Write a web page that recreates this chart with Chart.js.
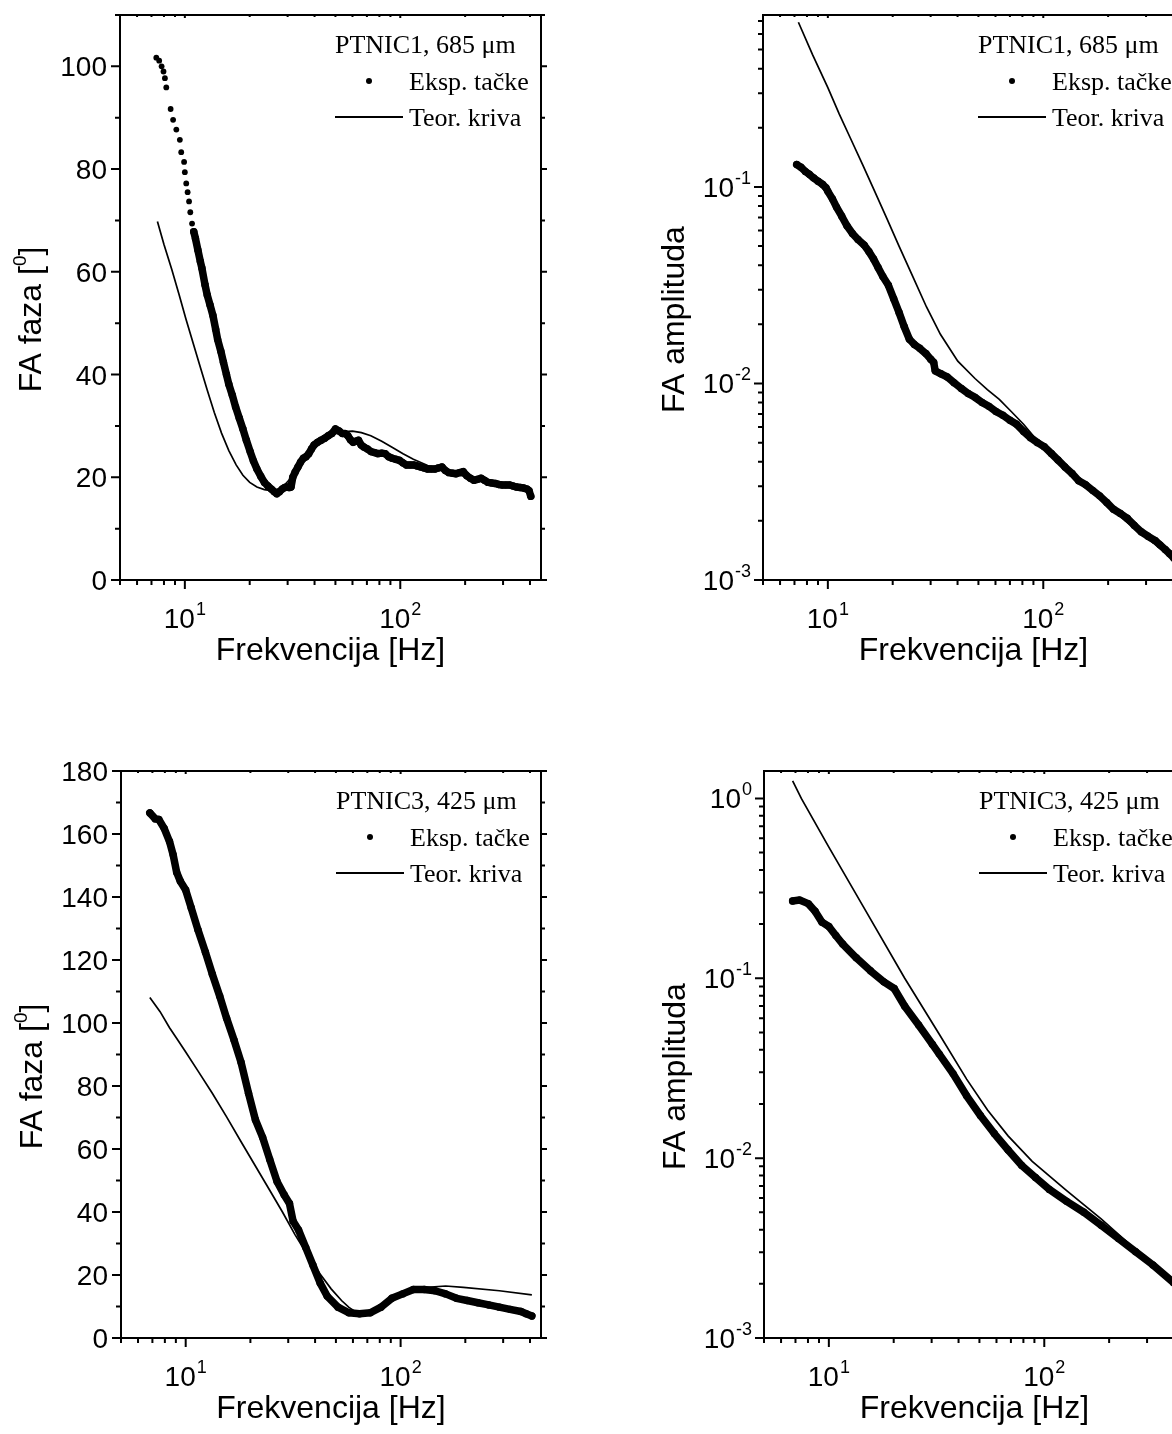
<!DOCTYPE html>
<html>
<head>
<meta charset="utf-8">
<script src="https://cdn.jsdelivr.net/npm/chart.js@4.4.0/dist/chart.umd.min.js"></script>
<style>
  html, body { margin: 0; padding: 0; background: #fff; width: 1172px; height: 1434px; overflow: hidden; }
  canvas { position: absolute; }
</style>
</head>
<body>
<canvas id="c1" width="586" height="717" style="left:0;top:0"></canvas>
<canvas id="c2" width="640" height="717" style="left:586px;top:0"></canvas>
<canvas id="c3" width="586" height="717" style="left:0;top:717px"></canvas>
<canvas id="c4" width="640" height="717" style="left:586px;top:717px"></canvas>
<script>
// PTNIC1, 685 um - phase (experimental points)
const tlFreq = [7.37,7.6,7.8,7.96,8.08,8.2,8.59,8.82,9.13,9.48,
  9.62,9.92,10.0,10.15,10.3,10.46,10.6,10.8,11.0,11.2,
  11.5,11.8,12.0,12.4,12.7,13.1,13.5,13.9,14.2,14.7,
  15.1,15.6,16.0,16.6,17.2,17.9,18.6,19.3,20.1,20.8,
  21.6,22.5,23.4,24.3,25.2,26.0,26.7,27.5,28.3,29.1,
  29.9,30.5,31.1,31.7,32.5,33.5,34.5,35.5,36.5,37.6,
  38.7,39.8,41.3,42.9,44.6,46.3,48.1,50,52,53.9,
  55.5,57.1,58.7,60.4,62.2,64,65.8,67.7,70.4,73.1,
  76,78.8,82,85,88.3,91.7,95.3,99,103,106.8,
  111,115.2,119.7,124.3,129,134,139.3,144.6,150,156,
  162,168.3,175,181.6,188.6,196,203.6,211.5,219.6,228,
  237,246,255.7,265.5,275.8,286.5,297.6,309,321,333.5,
  346.5,360,373.8,388,396,403.5];
const tlPhase = [101.7,101.1,100.0,99.0,97.7,95.9,91.7,89.6,87.7,85.7,
  83.3,81.4,79.4,77.2,75.5,73.7,71.6,69.4,67.8,66.5,
  64.2,62.0,60.7,57.5,55.5,53.5,51.5,48.8,46.8,44.5,
  42.4,40.0,38.1,36.0,33.7,31.5,29.4,27.2,25.0,23.2,
  21.6,20.2,19.0,18.3,17.7,17.2,16.8,17.2,17.7,18.0,
  18.1,18.0,18.1,20.0,21.0,22.0,23.0,23.7,24.0,24.6,
  25.5,26.3,26.8,27.2,27.6,28.1,28.5,29.4,29.0,28.5,
  28.5,28.1,27.3,26.8,27.0,27.2,26.3,25.9,25.5,25.0,
  24.8,24.6,24.7,24.6,24.0,23.7,23.5,23.3,22.8,22.4,
  22.4,22.4,22.2,22.0,21.8,21.6,21.6,21.6,21.8,22.0,
  21.3,20.9,20.8,20.7,20.9,21.1,20.3,19.8,19.4,19.6,
  19.8,19.4,19.0,18.9,18.8,18.6,18.5,18.5,18.5,18.3,
  18.1,18.0,17.9,17.7,17.4,16.3];
// PTNIC1 - phase (theoretical curve)
const tlTheoFreq = [7.46,8.0,8.69,9.4,10.1,11.0,11.8,12.7,13.7,14.8,
  16.0,17.3,18.6,20.0,21.6,23.4,25.2,27,29,31,
  33.5,36,39,42.5,46,50,55,60,66,73,
  82,92,103,115,134,150,168,190,215,250,
  300,350,405];
const tlTheoPhase = [69.8,65.3,60.5,55.6,50.9,45.7,41.4,37.0,32.6,28.6,
  25.2,22.4,20.4,19.0,18.1,17.6,17.4,17.6,18.5,19.8,
  21.7,23.5,25.3,26.8,27.8,28.5,28.9,29.0,28.7,28.1,
  27.0,25.8,24.6,23.5,22.3,21.6,21.0,20.4,19.8,19.2,
  18.5,18.0,17.4];

// PTNIC1 - amplitude
const trFreq = [7.17,7.5,7.86,8.2,8.6,9.0,9.46,9.8,10.0,10.5,
  10.97,11.6,12.26,13.0,13.8,14.75,15.5,16.3,17.1,18.0,
  19.1,20.2,21.4,22.6,23.9,25.2,26.7,28.5,30.0,31.0,
  31.5,33.5,35.8,38.5,41.6,44.8,48.2,52,55.9,60.3,
  64.9,70,75.2,81,87.2,94,101,109,117,126,
  136,146,157.5,170,182.7,197,211.8,228,245.5,264,
  284.6,306,330,348,368,386,404];
const trAmp = [0.130,0.126,0.120,0.116,0.111,0.107,0.103,0.099,0.095,0.087,
  0.079,0.071,0.0635,0.058,0.054,0.0506,0.047,0.043,0.0389,0.035,
  0.0316,0.027,0.023,0.0195,0.0168,0.0158,0.0151,0.0142,0.0133,0.0128,
  0.0116,0.0112,0.0108,0.0101,0.00944,0.0089,0.0085,0.0080,0.00765,0.0072,
  0.00689,0.0065,0.0062,0.0057,0.0053,0.0050,0.00477,0.0044,0.00408,0.00376,
  0.00348,0.0032,0.00305,0.00285,0.00268,0.00248,0.00229,0.00218,0.00206,0.0019,
  0.00176,0.00167,0.00159,0.00151,0.00143,0.00136,0.00129];
const trTheoFreq = [7.3,8.5,10,11.3,12.7,14.5,16.5,18.8,21.4,24.8,
  28.7,33.3,40.1,48.2,55,62.5,71,81,90,99.3,
  120,150,190,240,300,350,400];
const trTheoAmp = [0.689,0.47,0.32,0.235,0.178,0.13,0.095,0.069,0.05,0.035,
  0.0245,0.0178,0.0130,0.0106,0.0093,0.0083,0.0072,0.0062,0.0054,0.00478,
  0.0040,0.0032,0.00255,0.0020,0.00165,0.00145,0.0013];

// PTNIC3, 425 um - phase
const blFreq = [6.81,7.22,7.5,7.94,8.41,8.74,9.08,9.44,10,10.6,
  11.4,12.35,13.3,14.4,15.5,16.8,18.1,19.6,21.1,22.8,
  24.6,26.6,28.7,30.4,31.6,33.5,36.2,39.1,42.2,45.5,
  51.1,57.4,64.4,72.3,81.1,91,102.2,114.7,128.7,144.5,
  162,182,204,229,257,288,323,363,384,408];
const blPhase = [166.7,164.8,164.6,161.8,157.6,153.4,147.8,145,142.2,136.6,
  129.6,122.5,115.5,108.5,101.5,94.5,87.5,77.7,69.3,63.7,
  56.7,49.7,45.5,42.7,37.1,34.3,28.7,23.1,17.5,13.3,
  9.8,8.0,7.7,8.0,9.8,12.6,14.0,15.4,15.4,15.0,
  14.0,12.6,11.9,11.2,10.5,9.8,9.1,8.4,7.7,7.0];
const blTheoFreq = [6.81,7.6,8.41,9.2,10,11.5,13.3,15.5,18.1,21.1,
  24.6,28.2,32.2,37,42.2,47.5,53.1,57.5,61.9,67,
  72.3,80,90,100,115,133,162,196,288,408];
const blTheoPhase = [108.1,103.6,98.5,94.5,90.8,84.4,77.7,70.2,62.3,54.6,
  46.9,40.0,32.9,26.2,20.3,15.6,11.9,9.7,8.3,7.7,
  7.7,9.5,11.5,13.2,15.0,16.1,16.5,16.1,15.0,13.7];

// PTNIC3 - amplitude
const brFreq = [6.79,7.31,8.02,8.63,9.29,10,10.77,11.6,13.4,15.6,
  18.0,20.1,22.5,26.1,30.2,32.5,37.7,43.6,50.6,58.6,
  67.9,78.6,91,105.5,127,152.6,183.6,221,265.5,319,398];
const brAmp = [0.269,0.272,0.26,0.236,0.205,0.194,0.173,0.155,0.130,0.110,
  0.0955,0.0877,0.0699,0.055,0.043,0.038,0.0295,0.0222,0.0172,0.0137,
  0.0111,0.0091,0.0078,0.0067,0.00575,0.00500,0.00424,0.00357,0.00302,0.00255,0.00203];
const brTheoFreq = [6.79,7.45,10,14.45,22.5,32.5,43.6,54.5,67.9,87.9,127,183.6,265.5,398];
const brTheoAmp = [1.25,1.0,0.536,0.25,0.1,0.049,0.0275,0.0185,0.0133,0.0096,0.0066,0.0046,0.0031,0.00207];

// axis ticks
const freqMajor = [10, 100];
const freqMinor = [5, 6, 7, 8, 9, 20, 30, 40, 50, 60, 70, 80, 90, 200, 300, 400];
const phaseMajorTop = [0, 20, 40, 60, 80, 100];
const phaseMinorTop = [10, 30, 50, 70, 90, 110];
const phaseMajorBottom = [0, 20, 40, 60, 80, 100, 120, 140, 160, 180];
const phaseMinorBottom = [10, 30, 50, 70, 90, 110, 130, 150, 170];
const ampMajor = [0.001, 0.01, 0.1, 1];
const ampMinor = [0.001, 0.01, 0.1].flatMap(d => [2, 3, 4, 5, 6, 7, 8, 9].map(k => k * d));

const SANS = '"Liberation Sans", Arial, sans-serif';
const SERIF = '"Liberation Serif", "Times New Roman", serif';

function supText(ctx, base, sup, x, y, align, size, supSize, rise) {
  ctx.textAlign = 'left';
  ctx.textBaseline = 'alphabetic';
  ctx.font = size + 'px ' + SANS;
  const wb = ctx.measureText(base).width;
  ctx.font = supSize + 'px ' + SANS;
  const ws = sup ? ctx.measureText(sup).width + 1 : 0;
  const w = wb + ws;
  const x0 = align === 'right' ? x - w : x - w / 2;
  ctx.font = size + 'px ' + SANS;
  ctx.fillText(base, x0, y);
  if (sup) {
    ctx.font = supSize + 'px ' + SANS;
    ctx.fillText(sup, x0 + wb + 1, y - rise);
  }
}

function makePanel(id, cfg) {
  const frame = {
    id: 'frame',
    afterDraw(chart) {
      const ctx = chart.ctx;
      const a = chart.chartArea;
      const xs = chart.scales.x, ys = chart.scales.y;
      ctx.save();
      ctx.strokeStyle = '#000';
      ctx.fillStyle = '#000';
      ctx.lineWidth = 2;
      ctx.strokeRect(a.left, a.top, a.right - a.left, a.bottom - a.top);
      ctx.beginPath();
      const inX = v => v >= xs.min && v <= xs.max;
      const inY = v => v >= ys.min - 1e-9 && v <= ys.max;
      freqMajor.filter(inX).forEach(v => {
        const p = xs.getPixelForValue(v);
        ctx.moveTo(p, a.bottom); ctx.lineTo(p, a.bottom + 9);
        ctx.moveTo(p, a.top); ctx.lineTo(p, a.top + 3);
      });
      freqMinor.filter(inX).forEach(v => {
        const p = xs.getPixelForValue(v);
        ctx.moveTo(p, a.bottom); ctx.lineTo(p, a.bottom + 5);
        ctx.moveTo(p, a.top); ctx.lineTo(p, a.top + 2);
      });
      cfg.yMajor.filter(inY).forEach(v => {
        const p = ys.getPixelForValue(v);
        ctx.moveTo(a.left, p); ctx.lineTo(a.left - 9, p);
        ctx.moveTo(a.right, p); ctx.lineTo(a.right + 6, p);
      });
      cfg.yMinor.filter(inY).forEach(v => {
        const p = ys.getPixelForValue(v);
        ctx.moveTo(a.left, p); ctx.lineTo(a.left - 5, p);
        ctx.moveTo(a.right, p); ctx.lineTo(a.right + 4, p);
      });
      ctx.stroke();

      // tick labels
      freqMajor.filter(inX).forEach(v => {
        const p = xs.getPixelForValue(v);
        supText(ctx, '10', String(Math.round(Math.log10(v))), p, a.bottom + 48, 'center', 28, 18, 13);
      });
      cfg.yMajor.filter(inY).forEach(v => {
        const p = ys.getPixelForValue(v);
        if (cfg.yType === 'logarithmic') {
          supText(ctx, '10', String(Math.round(Math.log10(v))), a.left - 12, p + 10, 'right', 28, 18, 13);
        } else {
          supText(ctx, String(v), '', a.left - 13, p + 10, 'right', 28, 18, 0);
        }
      });

      // axis titles
      ctx.font = '32px ' + SANS;
      ctx.textAlign = 'center';
      ctx.fillText('Frekvencija [Hz]', (a.left + a.right) / 2, a.bottom + 80);
      ctx.save();
      ctx.translate(a.left - 90, (a.top + a.bottom) / 2 + 22);
      ctx.rotate(-Math.PI / 2);
      ctx.textAlign = 'left';
      const parts = cfg.yTitle;
      ctx.font = '32px ' + SANS;
      const w1 = ctx.measureText(parts[0]).width;
      const w3 = parts[2] ? ctx.measureText(parts[2]).width : 0;
      ctx.font = '19px ' + SANS;
      const w2 = parts[1] ? ctx.measureText(parts[1]).width : 0;
      const x0 = -(w1 + w2 + w3) / 2;
      ctx.font = '32px ' + SANS;
      ctx.fillText(parts[0], x0, 11);
      if (parts[1]) {
        ctx.font = '19px ' + SANS;
        ctx.fillText(parts[1], x0 + w1, -4);
        ctx.font = '32px ' + SANS;
        ctx.fillText(parts[2], x0 + w1 + w2, 11);
      }
      ctx.restore();

      // legend
      const lx = a.left, ly = a.top;
      ctx.font = '26px ' + SERIF;
      ctx.textAlign = 'left';
      ctx.fillText(cfg.sample, lx + 215, ly + 38);
      ctx.fillText('Eksp. tačke', lx + 289, ly + 75);
      ctx.fillText('Teor. kriva', lx + 289, ly + 111);
      ctx.beginPath();
      ctx.arc(lx + 249, ly + 66, 3, 0, Math.PI * 2);
      ctx.fill();
      ctx.lineWidth = 1.8;
      ctx.beginPath();
      ctx.moveTo(lx + 215, ly + 102);
      ctx.lineTo(lx + 283, ly + 102);
      ctx.stroke();
      ctx.restore();
    }
  };

  const sparse = cfg.sparseUntil || 0;
  new Chart(document.getElementById(id), {
    type: 'scatter',
    data: {
      datasets: [
        {
          label: 'Eksp. tačke',
          data: cfg.expF.map((f, i) => ({ x: f, y: cfg.expV[i] })),
          showLine: true,
          order: 1,
          borderColor: '#000',
          borderWidth: 7.5,
          borderCapStyle: 'round',
          borderJoinStyle: 'round',
          pointRadius: c => (c.raw && c.raw.x < sparse ? 2.9 : 3.7),
          pointBorderWidth: 0,
          pointBackgroundColor: '#000',
          segment: {
            borderColor: c => (c.p0.parsed.x < sparse ? 'rgba(0,0,0,0)' : '#000')
          }
        },
        {
          label: 'Teor. kriva',
          data: cfg.theoF.map((f, i) => ({ x: f, y: cfg.theoV[i] })),
          showLine: true,
          order: 2,
          borderColor: '#000',
          borderWidth: 1.7,
          pointRadius: 0
        }
      ]
    },
    options: {
      responsive: false,
      animation: false,
      devicePixelRatio: 1,
      events: [],
      layout: { padding: cfg.pad },
      plugins: { legend: { display: false }, tooltip: { enabled: false } },
      scales: {
        x: { type: 'logarithmic', min: 5, max: 450, display: false },
        y: { type: cfg.yType, min: cfg.yMin, max: cfg.yMax, display: false }
      }
    },
    plugins: [frame]
  });
}

makePanel('c1', {
  expF: tlFreq, expV: tlPhase, theoF: tlTheoFreq, theoV: tlTheoPhase,
  yType: 'linear', yMin: 0, yMax: 110, yMajor: phaseMajorTop, yMinor: phaseMinorTop,
  yTitle: ['FA faza [', '0', ']'], sample: 'PTNIC1, 685 μm', sparseUntil: 10.9,
  pad: { left: 120, top: 15, right: 45, bottom: 137 }
});
makePanel('c2', {
  expF: trFreq, expV: trAmp, theoF: trTheoFreq, theoV: trTheoAmp,
  yType: 'logarithmic', yMin: 0.001, yMax: 0.75, yMajor: ampMajor, yMinor: ampMinor,
  yTitle: ['FA amplituda'], sample: 'PTNIC1, 685 μm',
  pad: { left: 177, top: 15, right: 42, bottom: 137 }
});
makePanel('c3', {
  expF: blFreq, expV: blPhase, theoF: blTheoFreq, theoV: blTheoPhase,
  yType: 'linear', yMin: 0, yMax: 180, yMajor: phaseMajorBottom, yMinor: phaseMinorBottom,
  yTitle: ['FA faza [', '0', ']'], sample: 'PTNIC3, 425 μm',
  pad: { left: 121, top: 54, right: 45, bottom: 96 }
});
makePanel('c4', {
  expF: brFreq, expV: brAmp, theoF: brTheoFreq, theoV: brTheoAmp,
  yType: 'logarithmic', yMin: 0.001, yMax: 1.42, yMajor: ampMajor, yMinor: ampMinor,
  yTitle: ['FA amplituda'], sample: 'PTNIC3, 425 μm',
  pad: { left: 178, top: 54, right: 41, bottom: 96 }
});
</script>
</body>
</html>
